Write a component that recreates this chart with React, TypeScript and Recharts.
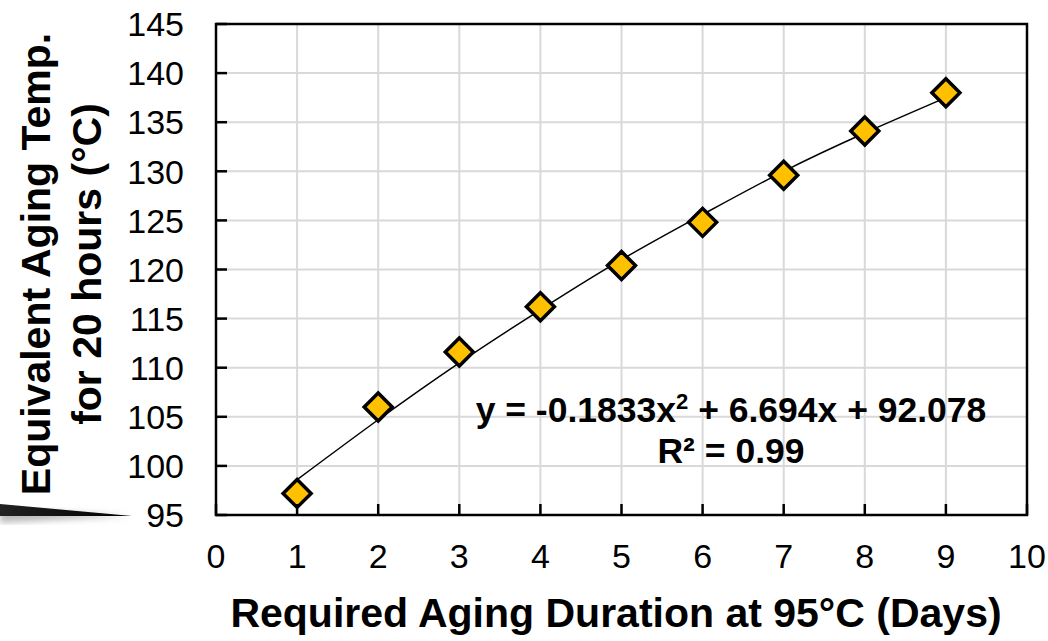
import React from 'react';
import {
  ComposedChart, Line, Scatter, XAxis, YAxis, CartesianGrid, ReferenceArea,
} from 'recharts';

// measured points (days -> equivalent temp)
const days = [1, 2, 3, 4, 5, 6, 7, 8, 9];
const equivTemp = [97.2, 106.0, 111.6, 116.2, 120.4, 124.8, 129.6, 134.1, 138.0];

// polynomial trendline
const trendDays = [1, 2, 3, 4, 5, 6, 7, 8, 9];
const trendTemp = [98.6, 104.7, 110.5, 115.9, 121.0, 125.6, 130.0, 133.9, 137.5];

const xTicks = [0, 1, 2, 3, 4, 5, 6, 7, 8, 9, 10];
const yTicks = [95, 100, 105, 110, 115, 120, 125, 130, 135, 140, 145];

const points = days.map((d, i) => ({ x: d, y: equivTemp[i] }));
const trend = trendDays.map((d, i) => ({ x: d, t: trendTemp[i] }));

const FONT = '"Liberation Sans", Arial, sans-serif';
const gold = '#FFC000';

const Diamond = (props: any) => {
  const { cx, cy } = props;
  const r = 14;
  return (
    <polygon
      points={`${cx},${cy - r} ${cx + r},${cy} ${cx},${cy + r} ${cx - r},${cy}`}
      fill={gold}
      stroke="#000"
      strokeWidth={3.5}
      strokeLinejoin="miter"
    />
  );
};

const YTick = (props: any) => {
  const { x, y, payload } = props;
  return (
    <g>
      <line x1={x} x2={x + 11} y1={y} y2={y} stroke="#000" strokeWidth={2.5} />
      <text x={x - 32} y={y} dy="0.36em" textAnchor="end" fontSize={34} fontFamily={FONT} fill="#000">
        {payload.value}
      </text>
    </g>
  );
};

const XTick = (props: any) => {
  const { x, y, payload } = props;
  return (
    <g>
      <line x1={x} x2={x} y1={y} y2={y - 11} stroke="#000" strokeWidth={2.5} />
      <text x={x} y={y + 41} dy="0.36em" textAnchor="middle" fontSize={34} fontFamily={FONT} fill="#000">
        {payload.value}
      </text>
    </g>
  );
};

export default function App() {
  return (
    <div style={{ position: 'absolute', left: 0, top: 0, width: 1048, height: 641, background: '#fff', fontFamily: FONT }}>
      <ComposedChart width={1048} height={641} margin={{ top: 24, right: 21, left: 0, bottom: 0 }}>
        <CartesianGrid stroke="#d9d9d9" strokeWidth={2} horizontalValues={yTicks} verticalValues={xTicks} />
        <XAxis
          type="number"
          dataKey="x"
          domain={[0, 10]}
          ticks={xTicks}
          height={126}
          tickSize={0}
          tickMargin={0}
          tick={<XTick />}
          axisLine={false}
          tickLine={false}
          allowDataOverflow
        />
        <YAxis
          type="number"
          domain={[95, 145]}
          ticks={yTicks}
          width={216}
          tickSize={0}
          tickMargin={0}
          tick={<YTick />}
          axisLine={false}
          tickLine={false}
          allowDataOverflow
        />
        <ReferenceArea x1={0} x2={10} y1={95} y2={145} fill="none" fillOpacity={0} stroke="#000" strokeWidth={2.5} ifOverflow="visible" />
        <Line
          data={trend}
          dataKey="t"
          type="natural"
          stroke="#000"
          strokeWidth={1.5}
          dot={false}
          isAnimationActive={false}
        />
        <Scatter data={points} dataKey="y" shape={<Diamond />} isAnimationActive={false} />
      </ComposedChart>

      {/* equation label */}
      <div style={{ position: 'absolute', left: 431, top: 390, width: 600, textAlign: 'center', fontWeight: 700, fontSize: 35.5, lineHeight: '41px', color: '#000' }}>
        <div>y = -0.1833x<sup style={{ fontSize: 22, verticalAlign: 'top', lineHeight: '24px' }}>2</sup> + 6.694x + 92.078</div>
        <div>R² = 0.99</div>
      </div>

      {/* y axis title */}
      <div
        style={{
          position: 'absolute', left: 62 - 300, top: 264 - 51, width: 600, height: 102,
          transform: 'rotate(-90deg)', textAlign: 'center', fontWeight: 700, fontSize: 41, lineHeight: '51px', color: '#000',
        }}
      >
        <div>Equivalent Aging Temp.</div>
        <div>for 20 hours (°C)</div>
      </div>

      {/* x axis title */}
      <div style={{ position: 'absolute', left: 216, top: 590, width: 800, textAlign: 'center', fontWeight: 700, fontSize: 41, lineHeight: '46px', color: '#000' }}>
        Required Aging Duration at 95°C (Days)
      </div>

      {/* stray shadow stroke at the left edge */}
      <svg style={{ position: 'absolute', left: 0, top: 495 }} width={140} height={40}>
        <defs>
          <linearGradient id="wedge" x1="0" x2="1" y1="0" y2="0">
            <stop offset="0" stopColor="#222" />
            <stop offset="1" stopColor="#000" />
          </linearGradient>
          <filter id="blur"><feGaussianBlur stdDeviation="3" /></filter>
        </defs>
        <polygon points="0,14 130,21 0,28" fill="#bbb" filter="url(#blur)" />
        <polygon points="0,9 132,21 0,21" fill="url(#wedge)" />
      </svg>
    </div>
  );
}
